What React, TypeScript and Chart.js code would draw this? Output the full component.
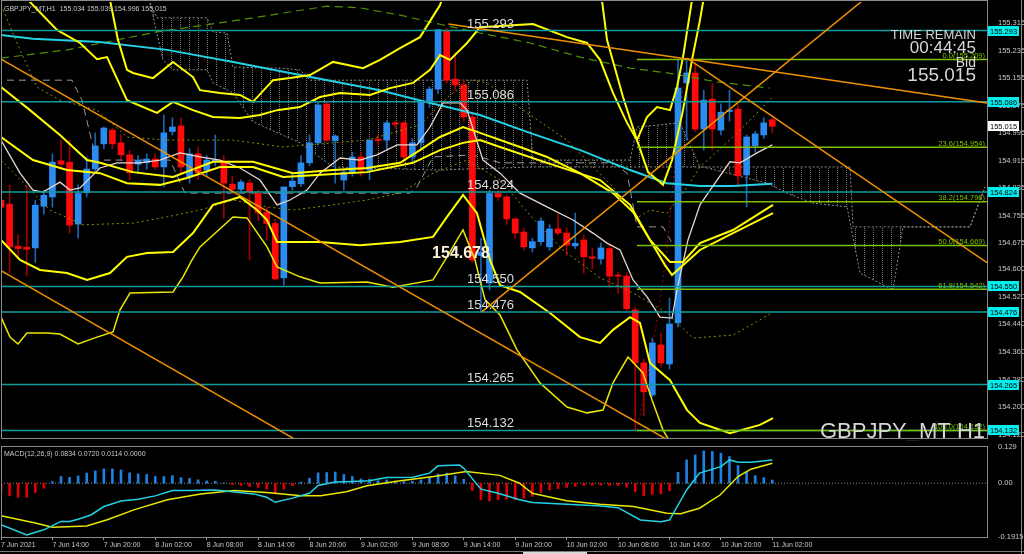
import React, { useEffect, useRef } from 'react';
import { Chart, registerables } from 'chart.js';

Chart.register(...registerables);

// ---------------- data ----------------
const X_TICK_BARS = [0, 6, 12, 18, 24, 30, 36, 42, 48, 54, 60, 66, 72, 78, 84, 90];
const X_TICK_LABELS = ['7 Jun 2021', '7 Jun 14:00', '7 Jun 20:00', '8 Jun 02:00', '8 Jun 08:00', '8 Jun 14:00', '8 Jun 20:00', '9 Jun 02:00', '9 Jun 08:00', '9 Jun 14:00', '9 Jun 20:00', '10 Jun 02:00', '10 Jun 08:00', '10 Jun 14:00', '10 Jun 20:00', '11 Jun 02:00'];
const Y_TICKS = [155.315, 155.235, 155.155, 155.075, 154.995, 154.915, 154.835, 154.755, 154.675, 154.6, 154.52, 154.44, 154.36, 154.28, 154.2, 154.12];
const Y_TICK_LABELS = ['155.315', '155.235', '155.155', '155.075', '154.995', '154.915', '154.835', '154.755', '154.675', '154.600', '154.520', '154.440', '154.360', '154.280', '154.200', '154.120'];
const MACD_TICKS = [0.129, 0, -0.1915];
const MACD_TICK_LABELS = ['0.129', '0.00', '-0.1915'];

const OPEN = [
  154.800, 154.789, 154.667, 154.664, 154.662, 154.783, 154.810, 154.915, 154.911, 154.731,
  154.822, 154.891, 154.964, 155.004, 154.967, 154.932, 154.905, 154.910, 154.920, 154.897,
  155.000, 155.016, 154.868, 154.935, 154.888, 154.915, 154.911, 154.847, 154.832, 154.850,
  154.820, 154.765, 154.733, 154.575, 154.840, 154.848, 154.909, 154.967, 155.080, 154.973,
  154.859, 154.882, 154.926, 154.888, 154.978, 154.975, 155.025, 155.025, 154.926, 154.967,
  155.085, 155.123, 155.293, 155.152, 155.135, 155.042, 154.640, 154.560, 154.820, 154.810,
  154.746, 154.708, 154.662, 154.680, 154.665, 154.717, 154.705, 154.668, 154.685, 154.636,
  154.630, 154.660, 154.583, 154.580, 154.482, 154.328, 154.235, 154.380, 154.325, 154.444,
  155.141, 155.170, 155.007, 155.094, 155.004, 155.058, 155.065, 154.874, 154.958, 154.990,
  155.034,
];
const HIGH = [
  154.900, 154.845, 154.700, 154.840, 154.800, 154.830, 154.935, 154.975, 154.975, 154.845,
  154.926, 154.996, 155.013, 155.010, 154.990, 154.945, 154.930, 154.935, 154.935, 155.048,
  155.040, 155.040, 154.950, 154.955, 154.930, 154.990, 154.930, 154.870, 154.860, 154.860,
  154.830, 154.780, 154.745, 154.839, 154.880, 154.930, 154.990, 155.085, 155.085, 154.990,
  154.890, 154.940, 154.940, 154.975, 154.990, 155.030, 155.030, 155.030, 154.980, 155.090,
  155.130, 155.297, 155.300, 155.230, 155.150, 155.050, 154.690, 154.830, 154.830, 154.815,
  154.750, 154.720, 154.690, 154.750, 154.730, 154.760, 154.720, 154.763, 154.700, 154.660,
  154.676, 154.670, 154.590, 154.590, 154.490, 154.340, 154.400, 154.415, 154.516, 155.208,
  155.209, 155.200, 155.120, 155.140, 155.080, 155.120, 155.080, 154.990, 155.000, 155.040,
  155.039,
];
const LOW = [
  154.620, 154.590, 154.630, 154.580, 154.620, 154.760, 154.780, 154.890, 154.705, 154.690,
  154.810, 154.880, 154.950, 154.950, 154.920, 154.860, 154.880, 154.890, 154.890, 154.840,
  154.990, 154.880, 154.850, 154.860, 154.870, 154.900, 154.748, 154.820, 154.820, 154.627,
  154.740, 154.685, 154.569, 154.554, 154.830, 154.840, 154.900, 154.960, 154.970, 154.850,
  154.830, 154.870, 154.870, 154.860, 154.960, 154.950, 155.010, 154.910, 154.910, 154.950,
  155.070, 155.110, 155.140, 155.120, 155.030, 154.620, 154.476, 154.540, 154.800, 154.730,
  154.690, 154.655, 154.650, 154.670, 154.655, 154.700, 154.640, 154.660, 154.589, 154.600,
  154.615, 154.548, 154.530, 154.480, 154.132, 154.174, 154.230, 154.315, 154.310, 154.432,
  154.975, 155.000, 154.946, 154.946, 154.990, 155.030, 154.840, 154.781, 154.940, 154.980,
  154.996,
];
const CLOSE = [
  154.780, 154.665, 154.660, 154.658, 154.786, 154.815, 154.911, 154.905, 154.728, 154.820,
  154.891, 154.958, 155.010, 154.964, 154.932, 154.880, 154.917, 154.920, 154.897, 154.996,
  155.013, 154.897, 154.935, 154.880, 154.917, 154.918, 154.850, 154.832, 154.853, 154.824,
  154.765, 154.733, 154.572, 154.839, 154.856, 154.909, 154.967, 155.077, 154.975, 154.987,
  154.882, 154.926, 154.888, 154.975, 154.974, 155.025, 155.021, 154.926, 154.967, 155.085,
  155.123, 155.296, 155.149, 155.135, 155.042, 154.627, 154.650, 154.820, 154.810, 154.746,
  154.705, 154.665, 154.680, 154.740, 154.717, 154.705, 154.670, 154.675, 154.636, 154.632,
  154.662, 154.580, 154.580, 154.485, 154.328, 154.244, 154.386, 154.328, 154.441, 155.126,
  155.170, 155.007, 155.091, 155.007, 155.056, 155.062, 154.871, 154.984, 154.993, 155.025,
  155.015,
];

// indicator lines: [bar, price]
const MA_CYAN = [[0, 155.28], [3.7, 155.269], [11.5, 155.26], [19.4, 155.237], [27.1, 155.202], [34.9, 155.164], [44.2, 155.12], [50.1, 155.083], [55.9, 155.048], [61.7, 154.996], [67.6, 154.946], [73.4, 154.888], [77.7, 154.85], [81.6, 154.842], [85.4, 154.842], [90, 154.848]];
const MA_WHITE = [[0, 154.975], [2.22, 154.879], [3.73, 154.83], [4.9, 154.824], [6.88, 154.853], [8.05, 154.83], [9.22, 154.836], [11.55, 154.894], [13.54, 154.909], [16.22, 154.909], [18.55, 154.917], [20.89, 154.938], [23.22, 154.926], [25.55, 154.917], [27.89, 154.894], [30.22, 154.859], [32.21, 154.787], [33.72, 154.801], [35.71, 154.83], [37.22, 154.879], [39.56, 154.923], [41.89, 154.917], [43.87, 154.932], [46.21, 154.961], [48.54, 154.961], [50.06, 155.013], [51.58, 155.083], [53.56, 155.083], [54.38, 155.062], [55.31, 154.99], [56.24, 154.917], [58.23, 154.879], [60.56, 154.821], [63.71, 154.781], [66.74, 154.743], [69.08, 154.705], [70.71, 154.676], [72.23, 154.656], [73.75, 154.569], [75.38, 154.52], [76.9, 154.461], [78.3, 154.458], [78.88, 154.54], [80.16, 154.685], [81.56, 154.787], [83.55, 154.859], [85.06, 154.912], [86.23, 154.909], [88.21, 154.938], [90, 154.961]];
const MA_GREEN = [[0, 155.213], [7.7, 155.237], [18.2, 155.289], [27.07, 155.321], [38.04, 155.364], [41.89, 155.359], [46.56, 155.338], [50.06, 155.318], [55.89, 155.286], [61.73, 155.257], [67.56, 155.216], [73.4, 155.184], [77.71, 155.17], [83.55, 155.144], [89.7, 155.126]];
const BAND_U2 = [[2.45, 155.425], [3.15, 155.382], [6.53, 155.295], [9.22, 155.257], [11.2, 155.21], [12.37, 155.216], [14.7, 155.091], [18.2, 155.054], [20.07, 155.086], [22.4, 155.062], [24.74, 155.042], [27.89, 155.039], [30.22, 155.048], [32.21, 155.062], [34.89, 155.071], [37.22, 155.1], [39.56, 155.112], [43.06, 155.106], [45.39, 155.126], [48.07, 155.141], [50.06, 155.179], [51.23, 155.222], [52.39, 155.208], [54.38, 155.257], [55.89, 155.303], [62.08, 155.312], [66.04, 155.274], [68.38, 155.257], [69.9, 155.208], [71.41, 155.112], [73.05, 155.025], [74.21, 154.975], [75.38, 155.042], [76.55, 155.071], [78.06, 155.062], [78.88, 155.129], [79.58, 155.216], [80.63, 155.382], [81.2, 155.44]];
const BAND_U3 = [[12.14, 155.425], [12.72, 155.382], [13.65, 155.266], [14.7, 155.179], [15.4, 155.17], [17.74, 155.155], [20.07, 155.202], [22.4, 155.158], [23.22, 155.12], [25.55, 155.112], [27.89, 155.106], [29.4, 155.086], [31.74, 155.149], [33.72, 155.155], [36.06, 155.164], [38.74, 155.202], [42.24, 155.184], [44.22, 155.208], [46.56, 155.242], [48.89, 155.274], [51.23, 155.367], [51.93, 155.425], [69.9, 155.425], [70.71, 155.266], [72.58, 155.1], [74.21, 154.975], [75.5, 154.882], [77.25, 154.845], [78.3, 154.917], [79.58, 155.062], [80.63, 155.208], [81.56, 155.324], [82.26, 155.425]];
const BAND_U1 = [[0, 155.129], [3.38, 155.062], [6.88, 154.99], [10.04, 154.917], [11.55, 154.909], [15.4, 154.882], [20.07, 154.868], [24.74, 154.912], [29.4, 154.912], [34.07, 154.879], [38.74, 154.888], [42.71, 154.894], [46.56, 154.909], [48.89, 154.946], [51.23, 154.984], [53.91, 155.013], [55.89, 154.996], [60.56, 154.955], [63.71, 154.926], [67.56, 154.879], [71.41, 154.821], [73.75, 154.766], [75.73, 154.685], [78.06, 154.621], [79.58, 154.621], [81.56, 154.676], [85.41, 154.714], [90.08, 154.787]];
const BAND_L1 = [[0, 154.984], [3.73, 154.917], [7.7, 154.888], [11.55, 154.879], [14.7, 154.85], [18.55, 154.845], [21.7, 154.865], [25.55, 154.897], [29.4, 154.897], [32.91, 154.868], [36.87, 154.874], [42.71, 154.882], [48.07, 154.909], [51.23, 154.946], [53.91, 154.967], [55.89, 154.975], [58.23, 154.955], [63.71, 154.909], [69.9, 154.859], [73.4, 154.787], [75.73, 154.685], [77.48, 154.612], [78.3, 154.583], [81.56, 154.656], [85.41, 154.705], [90.08, 154.763]];
const BAND_L2 = [[0, 154.685], [2.22, 154.627], [4.55, 154.598], [7.7, 154.589], [10.04, 154.569], [12.72, 154.589], [14.7, 154.636], [17.04, 154.647], [20.07, 154.65], [22.4, 154.705], [24.74, 154.787], [26.72, 154.801], [27.89, 154.81], [29.87, 154.772], [31.04, 154.743], [32.21, 154.679], [37.22, 154.679], [41.89, 154.67], [46.56, 154.679], [50.41, 154.694], [52.04, 154.752], [53.91, 154.816], [55.54, 154.763], [57.06, 154.627], [58.23, 154.554], [60.56, 154.534], [64.06, 154.473], [67.56, 154.403], [69.9, 154.386], [71.41, 154.424], [73.4, 154.461], [74.56, 154.444], [75.73, 154.328], [78.06, 154.278], [80.05, 154.191], [81.56, 154.154], [85.06, 154.124], [88.56, 154.148], [90.08, 154.168]];
const BAND_L3 = [[0, 154.461], [1.05, 154.403], [1.98, 154.383], [3.03, 154.415], [5.37, 154.415], [6.88, 154.412], [8.98, 154.383], [11.2, 154.403], [13.07, 154.418], [13.89, 154.482], [15.05, 154.531], [20.07, 154.534], [21.24, 154.578], [22.29, 154.627], [23.22, 154.665], [27.07, 154.752], [28.7, 154.749], [31.04, 154.665], [32.21, 154.607], [34.89, 154.578], [37.22, 154.56], [42.71, 154.563], [45.74, 154.548], [50.41, 154.569], [52.04, 154.636], [53.91, 154.714], [55.31, 154.627], [56.48, 154.511], [58.23, 154.467], [60.21, 154.366], [62.89, 154.27], [66.04, 154.2], [68.38, 154.183], [70.25, 154.191], [71.41, 154.27], [73.16, 154.345], [74.91, 154.299], [76.08, 154.212], [77.25, 154.133], [78.41, 154.084], [79.23, 154.017]];
const DOT_LOW = [[0, 154.917], [5.72, 154.772], [9.57, 154.729], [15.4, 154.734], [19.37, 154.752], [23.22, 154.772], [27.07, 154.801], [31.04, 154.781], [34.07, 154.772], [38.74, 154.787], [42.71, 154.801], [46.56, 154.821], [50.41, 154.879], [54.38, 154.917], [58.23, 154.859], [61.73, 154.757], [65.58, 154.656], [69.9, 154.575], [73.75, 154.531], [77.71, 154.473], [80.75, 154.4], [85.41, 154.409], [88.56, 154.453], [90.08, 154.476]];
const DOT_HIGH = [[0, 155.367], [2.22, 155.237], [4.2, 155.129], [6.88, 155.091], [11.2, 155.062], [14.7, 154.984], [19.37, 154.975], [27.07, 154.975], [32.91, 154.955], [42.71, 154.975], [48.89, 155.019], [52.39, 155.106], [55.08, 155.149], [56.71, 155.141], [60.91, 155.062], [66.04, 154.975], [69.08, 154.897], [71.41, 154.839], [74.21, 154.749], [75.73, 154.772], [77.71, 154.763], [79.58, 154.821], [81.56, 154.897], [85.41, 154.984], [90.08, 155.1]];
const KIJUN = [[0.7, 155.149], [8.28, 155.149], [9.45, 155.091], [10.97, 154.932], [11.2, 154.917], [19.72, 154.917], [21.47, 154.821], [47.72, 154.821], [48.54, 154.839], [50.41, 154.926], [55.08, 154.932], [58.23, 154.909], [71.41, 154.909], [73.05, 154.879], [74.21, 154.723], [77.25, 154.723], [78.3, 154.676]];
const SPAN_A = [[17.39, 155.373], [18.2, 155.33], [24.04, 155.33], [24.74, 155.289], [26.37, 155.286], [27.07, 155.187], [32.56, 155.184], [34.89, 155.179], [36.06, 155.149], [61.38, 155.149], [62.08, 154.917], [73.4, 154.917], [74.21, 155.013], [79.23, 155.025], [81.56, 154.897], [99.07, 154.897], [99.42, 154.723], [113.07, 154.723], [113.65, 154.763], [114.82, 154.839]];
const SPAN_B = [[17.39, 155.373], [18.9, 155.208], [20.07, 155.179], [24.04, 155.179], [24.74, 155.141], [27.07, 155.112], [29.4, 155.028], [34.89, 154.967], [38.74, 154.897], [50.88, 154.888], [62.08, 154.897], [81.91, 154.897], [89.38, 154.85], [91.71, 154.821], [94.75, 154.792], [98.72, 154.781], [100.23, 154.589], [104.08, 154.54], [105.25, 154.723], [113.07, 154.723], [114.82, 154.839]];
const LAG_RED = [[74.21, 154.133], [75.38, 154.278], [76.55, 154.453], [77.71, 154.656], [78.41, 154.845], [79.23, 155.062], [79.6, 155.13]];

const TREND_A = [[0, 155.21], [80, 154.073]];
const TREND_B = [[0, 154.596], [40, 154.025]];
const TREND_C = [[52.2, 155.312], [115.05, 155.083]];
const TREND_D = [[80.05, 155.213], [115.05, 154.619]];
const TREND_E = [[56.1, 154.476], [102, 155.41]];

const LEVELS = [155.293, 155.086, 154.824, 154.55, 154.476, 154.265, 154.132];
const BOLD_LEVEL = 154.678;
const FIB_LEVELS = [155.209, 154.954, 154.796, 154.669, 154.542, 154.132];
const FIB_NAMES = ['0.0', '23.6', '38.2', '50.0', '61.8', '100.0'];
const FIB_START = 74.2;
const BID = 155.015;

const HIST = [
  -0.033, -0.045, -0.05, -0.05, -0.033, -0.018, 0.006, 0.024, 0.021, 0.026,
  0.036, 0.044, 0.051, 0.051, 0.047, 0.037, 0.033, 0.031, 0.024, 0.024,
  0.027, 0.02, 0.017, 0.012, 0.008, 0.007, 0.001, -0.005, -0.008, -0.012,
  -0.015, -0.021, -0.036, -0.021, -0.009, 0.004, 0.018, 0.037, 0.038, 0.04,
  0.031, 0.024, 0.015, 0.014, 0.009, 0.012, 0.008, 0.006, 0.007, 0.012,
  0.021, 0.033, 0.036, 0.026, 0.014, -0.026, -0.059, -0.063, -0.059, -0.056,
  -0.059, -0.053, -0.047, -0.033, -0.024, -0.019, -0.015, -0.011, -0.008, -0.007,
  -0.007, -0.008, -0.009, -0.014, -0.031, -0.044, -0.039, -0.038, -0.027, 0.039,
  0.083, 0.101, 0.115, 0.113, 0.107, 0.095, 0.063, 0.039, 0.027, 0.02,
  0.0114,
];
const MACD_MAIN = [[0, -0.148], [3, -0.184], [5, -0.166], [7, -0.136], [8, -0.136], [9, -0.128], [10.5, -0.113], [12, -0.083], [14, -0.063], [16, -0.057], [18, -0.045], [20, -0.026], [22, -0.026], [25, -0.024], [27, -0.03], [29.5, -0.038], [31, -0.05], [32, -0.068], [34, -0.053], [36, -0.036], [37, -0.008], [39, 0.004], [41, 0.006], [43, 0.009], [45, 0.02], [48, 0.021], [50, 0.036], [51, 0.062], [53.5, 0.065], [54, 0.053], [56, -0.021], [58, -0.036], [60.5, -0.059], [62, -0.069], [66, -0.075], [70, -0.081], [72, -0.087], [74.6, -0.131], [77, -0.137], [78, -0.131], [80, -0.024], [81.5, 0.036], [84, 0.059], [85, 0.083], [86, 0.075], [87.5, 0.075], [90, 0.083]];
const MACD_SIGNAL = [[0, -0.116], [4, -0.142], [6, -0.157], [10, -0.152], [12.4, -0.13], [15.5, -0.095], [19.4, -0.059], [23.3, -0.038], [27.2, -0.026], [31, -0.033], [35, -0.045], [37.3, -0.045], [40.3, -0.03], [42.7, -0.009], [46.6, 0.009], [50.5, 0.024], [54.3, 0.042], [58.2, 0.028], [60.5, 0.0], [62, -0.036], [66, -0.062], [69.9, -0.075], [73.8, -0.083], [77.7, -0.107], [79.3, -0.109], [81.5, -0.089], [83.9, -0.042], [86, 0.024], [87.5, 0.05], [90, 0.071]];

// ---------------- layout constants ----------------
const W = 1024;
const H = 554;
const MAIN_H = 441;
const MACD_H = 113;
const X_MAX = 115.05;
const Y_MIN = 154.11;
const Y_MAX = 155.376;
const LEVEL_LABEL_BAR = 54.38;
const BOLD_LABEL_BAR = 50.3;
const FONT = '"Liberation Sans", Arial, sans-serif';

const pts = (arr: number[][]) => arr.map(([x, y]) => ({ x, y }));

function line(data: number[][], color: string, width: number, order: number, dash: number[] = [], extra: any = {}) {
  return {
    type: 'line',
    data: pts(data),
    borderColor: color,
    borderWidth: width,
    borderDash: dash,
    pointRadius: 0,
    tension: 0,
    fill: false,
    order,
    ...extra,
  };
}

const noPad = (s: any) => {
  s.paddingTop = 0;
  s.paddingBottom = 0;
  s.paddingLeft = 0;
  s.paddingRight = 0;
};

export default function App() {
  const mainRef = useRef<HTMLCanvasElement>(null);
  const macdRef = useRef<HTMLCanvasElement>(null);

  useEffect(() => {
    if (!mainRef.current || !macdRef.current) return;

    // hatch pattern for the ichimoku cloud
    const pc = document.createElement('canvas');
    pc.width = 9;
    pc.height = 2;
    const pctx = pc.getContext('2d')!;
    pctx.fillStyle = '#7a7a7a';
    pctx.fillRect(0, 0, 1, 1);
    const hatch = pctx.createPattern(pc, 'repeat');

    const idx = OPEN.map((_, i) => i);
    const bull = idx.map((i) => CLOSE[i] >= OPEN[i]);
    const bodyData = idx.map((i) => {
      const lo = Math.min(OPEN[i], CLOSE[i]);
      const hi = Math.max(OPEN[i], CLOSE[i]);
      return { x: i, y: [lo, Math.max(hi, lo + 0.0025)] };
    });
    const wickData = idx.map((i) => ({ x: i, y: [LOW[i], HIGH[i]] }));

    const datasets: any[] = [
      line(SPAN_A, '#8c8c8c', 1, 100, [2, 2], { fill: '+1', backgroundColor: hatch }),
      line(SPAN_B, '#8c8c8c', 1, 99, [2, 2]),
      line(KIJUN, '#9a9a9a', 1, 95, [7, 5]),
      line(LAG_RED, '#b00000', 1, 94, [2, 3]),
      {
        type: 'bar', data: wickData, backgroundColor: idx.map((i) => (bull[i] ? '#1c64b4' : '#a00000')),
        barThickness: 1, grouped: false, order: 90, borderWidth: 0,
      },
      {
        type: 'bar', data: bodyData, backgroundColor: idx.map((i) => (bull[i] ? '#2a8cf0' : '#ff0a0a')),
        barThickness: 6, grouped: false, order: 89, borderWidth: 0,
      },
      line(DOT_LOW, '#8f8f00', 1, 80, [2, 3]),
      line(DOT_HIGH, '#8f8f00', 1, 79, [2, 3]),
      line(MA_GREEN, '#4f8f00', 1.2, 78, [8, 5]),
      line(MA_CYAN, '#22d2e4', 2, 70),
      line(MA_WHITE, '#e6d6cf', 1.3, 69),
      line(BAND_L3, '#e8e800', 1.5, 60),
      line(BAND_L2, '#ffff00', 2, 59),
      line(BAND_L1, '#ffff00', 2, 58),
      line(BAND_U1, '#ffff00', 2, 57),
      line(BAND_U3, '#ffff00', 2, 56),
      line(BAND_U2, '#ffff00', 2, 55),
    ];
    LEVELS.forEach((v) => datasets.push(line([[0, v], [X_MAX, v]], '#119d9d', 1.5, 40)));
    FIB_LEVELS.forEach((v) => datasets.push(line([[FIB_START, v], [X_MAX, v]], '#7cc000', 1.5, 35)));
    [TREND_A, TREND_B, TREND_C, TREND_D, TREND_E].forEach((t) => datasets.push(line(t, '#ee9000', 1.5, 30)));

    const mainDeco = {
      id: 'mainDeco',
      afterDraw(chart: any) {
        const { ctx } = chart;
        const xs = chart.scales.x;
        const ys = chart.scales.y;
        ctx.save();
        ctx.strokeStyle = '#8a8a8a';
        ctx.lineWidth = 1;
        ctx.strokeRect(1.5, 0.5, 986, 438);
        ctx.beginPath();
        ctx.moveTo(1021.5, 0);
        ctx.lineTo(1021.5, MAIN_H);
        ctx.stroke();

        // level labels
        ctx.font = `13px ${FONT}`;
        ctx.fillStyle = '#dcdcdc';
        ctx.textAlign = 'left';
        ctx.textBaseline = 'alphabetic';
        LEVELS.forEach((v) => ctx.fillText(v.toFixed(3), xs.getPixelForValue(LEVEL_LABEL_BAR), ys.getPixelForValue(v) - 3));
        ctx.font = `bold 16px ${FONT}`;
        ctx.fillStyle = '#fff2d8';
        ctx.textBaseline = 'top';
        ctx.fillText(BOLD_LEVEL.toFixed(3), xs.getPixelForValue(BOLD_LABEL_BAR), ys.getPixelForValue(BOLD_LEVEL) + 3);

        // fib labels
        ctx.font = `7.5px ${FONT}`;
        ctx.fillStyle = '#7cc000';
        ctx.textAlign = 'right';
        ctx.textBaseline = 'alphabetic';
        FIB_LEVELS.forEach((v, i) => ctx.fillText(`${FIB_NAMES[i]}(${v.toFixed(3)})`, 985, ys.getPixelForValue(v) - 1.5));

        // header
        ctx.textAlign = 'left';
        ctx.fillStyle = '#c8c8c8';
        ctx.font = `7px ${FONT}`;
        ctx.fillText('GBPJPY_MT,H1  155.034 155.039 154.996 155.015', 4, 11);

        // time remain block
        ctx.textAlign = 'right';
        ctx.fillStyle = '#d6d6d6';
        ctx.font = `13px ${FONT}`;
        ctx.fillText('TIME REMAIN', 976, 39);
        ctx.font = `17px ${FONT}`;
        ctx.fillText('00:44:45', 976, 53);
        ctx.font = `14px ${FONT}`;
        ctx.fillText('Bid', 976, 67);
        ctx.font = `19px ${FONT}`;
        ctx.fillText(BID.toFixed(3), 976, 81);
        ctx.font = `22px ${FONT}`;
        ctx.fillText('GBPJPY_MT H1', 985, 438);

        // axis boxes
        ctx.font = `7.5px ${FONT}`;
        ctx.textAlign = 'left';
        ctx.textBaseline = 'middle';
        LEVELS.forEach((v) => {
          const py = Math.round(ys.getPixelForValue(v));
          ctx.fillStyle = '#00eeee';
          ctx.fillRect(988, py - 5, 31, 10);
          ctx.fillStyle = '#000';
          ctx.fillText(v.toFixed(3), 990, py + 0.5);
        });
        const by = Math.round(ys.getPixelForValue(BID));
        ctx.fillStyle = '#ffffff';
        ctx.fillRect(988, by - 5, 31, 10);
        ctx.fillStyle = '#000';
        ctx.fillText(BID.toFixed(3), 990, by + 0.5);
        ctx.restore();
      },
    };

    const tickFont = { family: 'Liberation Sans', size: 7.5 };
    const xTickFont = { family: 'Liberation Sans', size: 7 };

    const c1 = new Chart(mainRef.current, {
      type: 'line',
      data: { datasets },
      options: {
        responsive: false,
        animation: false,
        events: [],
        layout: { padding: { left: 1, right: 0, top: 2, bottom: 3 } },
        plugins: { legend: { display: false }, tooltip: { enabled: false } },
        scales: {
          x: { type: 'linear', min: 0, max: X_MAX, offset: false, display: false },
          y: {
            type: 'linear', position: 'right', min: Y_MIN, max: Y_MAX,
            grid: { display: false }, border: { display: false },
            ticks: { color: '#c8c8c8', font: tickFont, padding: 3, autoSkip: false, callback: (_v: any, i: number) => Y_TICK_LABELS[i] ?? '' },
            afterBuildTicks: (s: any) => { s.ticks = Y_TICKS.map((v) => ({ value: v })); },
            afterFit: (s: any) => { s.width = 37; noPad(s); },
          },
        },
      } as any,
      plugins: [mainDeco],
    } as any);

    const macdDeco = {
      id: 'macdDeco',
      afterDraw(chart: any) {
        const { ctx } = chart;
        ctx.save();
        ctx.strokeStyle = '#8a8a8a';
        ctx.lineWidth = 1;
        ctx.strokeRect(1.5, 5.5, 986, 91);
        ctx.beginPath();
        ctx.moveTo(1021.5, 0);
        ctx.lineTo(1021.5, MACD_H);
        ctx.stroke();
        ctx.fillStyle = '#7a7a7a';
        ctx.fillRect(0, 110, W, 1);
        ctx.fillStyle = '#d8d8d8';
        ctx.fillRect(523, 111, 64, 2);
        ctx.fillStyle = '#c8c8c8';
        ctx.font = `7px ${FONT}`;
        ctx.textAlign = 'left';
        ctx.textBaseline = 'alphabetic';
        ctx.fillText('MACD(12,26,9) 0.0834 0.0720 0.0114 0.0000', 4, 15);
        ctx.restore();
      },
    };

    const c2 = new Chart(macdRef.current, {
      type: 'bar',
      data: {
        datasets: [
          line(MACD_MAIN, '#22d2e4', 1.5, 1),
          line(MACD_SIGNAL, '#e8e800', 1.5, 2),
          {
            type: 'bar', data: HIST.map((v, i) => ({ x: i, y: v })),
            backgroundColor: HIST.map((v) => (v >= 0 ? '#1e80e0' : '#e00000')),
            barThickness: 2, grouped: false, order: 3, borderWidth: 0,
          },
          line([[0, 0], [X_MAX, 0]], '#8a8a8a', 1, 4, [1, 2]),
        ],
      },
      options: {
        responsive: false,
        animation: false,
        events: [],
        layout: { padding: { left: 1, right: 0, top: 6, bottom: 0 } },
        plugins: { legend: { display: false }, tooltip: { enabled: false } },
        scales: {
          x: {
            type: 'linear', min: 0, max: X_MAX, offset: false, position: 'bottom',
            grid: { display: true, drawOnChartArea: false, drawTicks: true, tickLength: 3, color: '#9a9a9a', offset: false },
            border: { display: false },
            ticks: { color: '#c8c8c8', font: xTickFont, align: 'start', maxRotation: 0, minRotation: 0, autoSkip: false, padding: 1, callback: (_v: any, i: number) => X_TICK_LABELS[i] ?? '' },
            afterBuildTicks: (s: any) => { s.ticks = X_TICK_BARS.map((v) => ({ value: v })); },
            afterFit: (s: any) => { s.height = 17; noPad(s); },
          },
          y: {
            type: 'linear', position: 'right', min: -0.1915, max: 0.129,
            grid: { display: false }, border: { display: false },
            ticks: { color: '#c8c8c8', font: tickFont, padding: 3, autoSkip: false, callback: (_v: any, i: number) => MACD_TICK_LABELS[i] ?? '' },
            afterBuildTicks: (s: any) => { s.ticks = MACD_TICKS.map((v) => ({ value: v })); },
            afterFit: (s: any) => { s.width = 37; noPad(s); },
          },
        },
      } as any,
      plugins: [macdDeco],
    } as any);

    return () => {
      c1.destroy();
      c2.destroy();
    };
  }, []);

  return (
    <div style={{ position: 'fixed', left: 0, top: 0, width: W, height: H, background: '#000', overflow: 'hidden' }}>
      <canvas ref={mainRef} width={W} height={MAIN_H} style={{ position: 'absolute', left: 0, top: 0, width: W, height: MAIN_H }} />
      <canvas ref={macdRef} width={W} height={MACD_H} style={{ position: 'absolute', left: 0, top: MAIN_H, width: W, height: MACD_H }} />
    </div>
  );
}
